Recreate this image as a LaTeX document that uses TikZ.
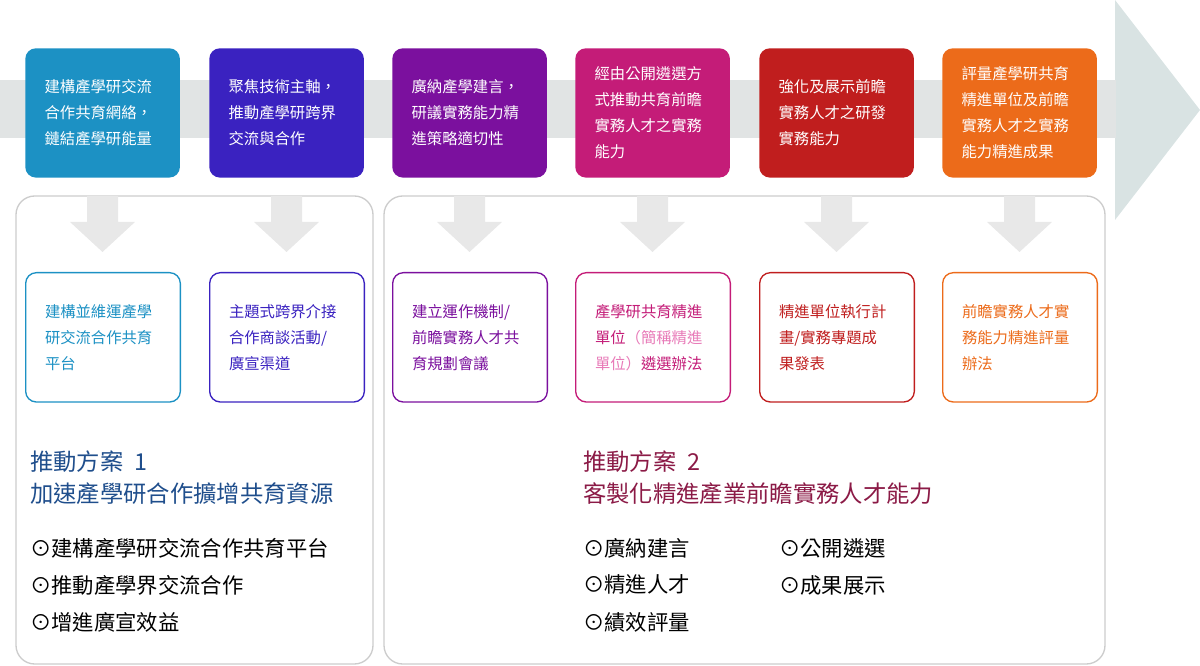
\documentclass[tikz,border=0pt]{standalone}
\usepackage{fontspec}
\setmainfont{Noto Sans CJK TC}
\usetikzlibrary{positioning}
\definecolor{cA}{HTML}{1C91C4}
\definecolor{cB}{HTML}{3A22C0}
\definecolor{cC}{HTML}{7B109E}
\definecolor{cD}{HTML}{C41C78}
\definecolor{cE}{HTML}{C01E1E}
\definecolor{cF}{HTML}{EC6B1A}
\definecolor{cLight}{HTML}{E87AB8}
\definecolor{Band}{HTML}{E1E4E4}
\definecolor{Head}{HTML}{D9E3E3}
\definecolor{Frame}{HTML}{CCCCCC}
\definecolor{Down}{HTML}{E8E8E8}
\definecolor{PlanA}{HTML}{1F4E8C}
\definecolor{PlanB}{HTML}{8B1A46}

\begin{document}
\begin{tikzpicture}[
        x=0.75pt,y=-0.75pt,
        %Environment Styles.
        topBox/.style={
            rectangle,
            rounded corners=8pt,
            minimum width=116pt,
            minimum height=97pt,
            inner sep=0pt,
            text width=87pt,
            align=left,
            font=\fontsize{11.5}{19.5}\selectfont,
            text=white,
            anchor=north west
        },
        subBox/.style={
            rectangle,
            rounded corners=8pt,
            line width=1pt,
            fill=white,
            minimum width=116pt,
            minimum height=97pt,
            inner sep=0pt,
            text width=87pt,
            align=left,
            font=\fontsize{11.5}{19.5}\selectfont,
            anchor=north west
        },
        groupBox/.style={draw=Frame, line width=1pt, rounded corners=14pt},
        planText/.style={anchor=west, inner sep=0pt, font=\fontsize{17.5}{20}\selectfont},
        itemText/.style={anchor=west, inner sep=0pt, font=\fontsize{16}{20}\selectfont},
    ]
    \useasboundingbox (0,0) rectangle (1200,666);
    %Background arrow.
    \fill[Band] (0,80) rectangle (1115,138);
    \fill[Head] (1115,0) -- (1200,110) -- (1115,220) -- cycle;
    \fill[Band] (1100,80) rectangle (1116,138);

    %Group frames.
    \draw[groupBox] (16,196) rectangle (373,664);
    \draw[groupBox] (384,196) rectangle (1105,664);

    %Top boxes, down arrows and sub boxes.
    \foreach \i/\x/\c/\t/\s in {
        1/25/cA/{建構產學研交流\\合作共育網絡，\\鏈結產學研能量}/{建構並維運產學\\研交流合作共育\\平台},
        2/209/cB/{聚焦技術主軸，\\推動產學研跨界\\交流與合作}/{主題式跨界介接\\合作商談活動/\\廣宣渠道},
        3/392/cC/{廣納產學建言，\\研議實務能力精\\進策略適切性}/{建立運作機制/\\前瞻實務人才共\\育規劃會議},
        4/575/cD/{經由公開遴選方\\式推動共育前瞻\\實務人才之實務\\能力}/{產學研共育精進\\單位{\color{cLight}（簡稱精進\\單位）}遴選辦法},
        5/759/cE/{強化及展示前瞻\\實務人才之研發\\實務能力}/{精進單位執行計\\畫/實務專題成\\果發表},
        6/942/cF/{評量產學研共育\\精進單位及前瞻\\實務人才之實務\\能力精進成果}/{前瞻實務人才實\\務能力精進評量\\辦法}}{
        \node[topBox, fill=\c] (top-\i) at (\x,48) {\t};
        \fill[Down] (\x+62,196) rectangle (\x+93,222)
            (\x+45,222) -- (\x+110,222) -- (\x+77.5,252) -- cycle;
        \node[subBox, draw=\c, text=\c] (sub-\i) at (\x,272) {\s};
    }

    %Plan 1.
    \node[planText, text=PlanA] (plan-1) at (30,462) {推動方案\ \ 1};
    \node[planText, text=PlanA] (goal-1) at (30,494) {加速產學研合作擴增共育資源};
    \node[itemText] (item-1a) at (30,548) {⊙建構產學研交流合作共育平台};
    \node[itemText] (item-1b) at (30,585) {⊙推動產學界交流合作};
    \node[itemText] (item-1c) at (30,622) {⊙增進廣宣效益};

    %Plan 2.
    \node[planText, text=PlanB] (plan-2) at (583,462) {推動方案\ \ 2};
    \node[planText, text=PlanB] (goal-2) at (583,494) {客製化精進產業前瞻實務人才能力};
    \node[itemText] (item-2a) at (583,548) {⊙廣納建言};
    \node[itemText] (item-2b) at (583,585) {⊙精進人才};
    \node[itemText] (item-2c) at (583,622) {⊙績效評量};
    \node[itemText] (item-2d) at (779,548) {⊙公開遴選};
    \node[itemText] (item-2e) at (779,585) {⊙成果展示};
\end{tikzpicture}
\end{document}
